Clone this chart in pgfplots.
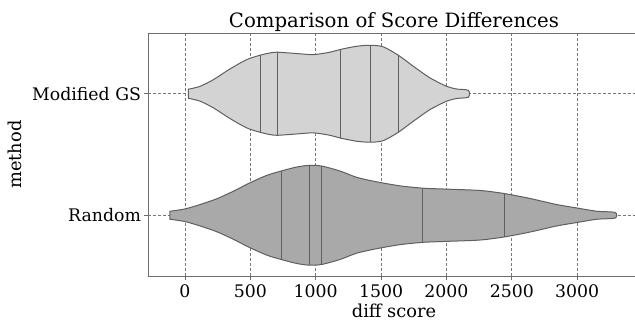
\documentclass[border=0pt]{standalone}
\usepackage{fontspec}
\setmainfont{DejaVu Serif}
\usepackage{pgfplots}
\pgfplotsset{compat=1.18}
\definecolor{lightv}{RGB}{211,211,211}
\definecolor{darkv}{RGB}{169,169,169}
\definecolor{edgec}{RGB}{95,95,95}
\definecolor{spinec}{RGB}{110,110,110}
\definecolor{gridc}{RGB}{120,120,120}
\begin{document}
\begin{tikzpicture}
\begin{axis}[
 at={(0,0)}, anchor=south west,
 scale only axis, width=507.6pt, height=243pt,
 xmin=-283, xmax=3600, ymin=-0.5, ymax=1.5,
 axis lines=left,
 xtick={0,500,1000,1500,2000,2500,3000},
 ytick={0,1}, yticklabels={Random, Modified GS},
 scaled x ticks=false,
 xticklabel style={/pgf/number format/1000 sep={}, yshift=-1.5pt},
 /pgf/number format/assume math mode=true,
 tick align=outside, tick pos=left, major tick length=3.5pt,
 tick style={spinec, line width=0.8pt},
 axis line style={spinec, line width=0.8pt, -},
 grid=major,
 major grid style={gridc, line width=0.8pt, dash pattern=on 3pt off 2pt},
 ticklabel style={font=\fontsize{17.3}{20}\selectfont, text=black},
 every axis title shift=0pt,
 title={Comparison of Score Differences},
 title style={font=\fontsize{19.7}{23}\selectfont, at={(axis description cs:0.5,1)}, anchor=base, xshift=-7.8pt, yshift=6pt},
 xlabel={diff score},
 xlabel style={font=\fontsize{17.8}{20}\selectfont, at={(axis description cs:0.5,-0.1728)}, anchor=base, xshift=-7.8pt},
 ylabel={method},
 ylabel style={font=\fontsize{17.8}{20}\selectfont, at={(axis description cs:0,0.5)}, anchor=base, yshift=126pt},
 clip=false,
]
\draw[spinec, line width=0.8pt] (rel axis cs:0,1) -- (rel axis cs:1,1);
% Modified GS violin (centre y = 1)
\addplot[draw=edgec, fill=lightv, line width=1pt, smooth, tension=0.45] coordinates {
(25,1.037) (115,1.061) (217,1.116) (344,1.204) (472,1.281) (574,1.317) (650,1.336) (706,1.342)
(855,1.331) (982,1.322) (1109,1.342) (1186,1.364) (1314,1.391) (1421,1.399) (1517,1.386)
(1632,1.317) (1747,1.226) (1875,1.130) (2002,1.061) (2079,1.039) (2168,1.028)
(2168,0.972) (2079,0.961) (2002,0.939) (1875,0.870) (1747,0.774) (1632,0.683) (1517,0.614)
(1421,0.601) (1314,0.609) (1186,0.636) (1109,0.658) (982,0.678) (855,0.669) (706,0.658)
(650,0.664) (574,0.683) (472,0.719) (344,0.796) (217,0.884) (115,0.939) (25,0.963)
} -- cycle;
% Random violin (centre y = 0)
\addplot[draw=edgec, fill=darkv, line width=1pt, smooth, tension=0.45] coordinates {
(-115,0.033) (0,0.052) (115,0.088) (242,0.135) (370,0.198) (497,0.267) (625,0.328) (735,0.364)
(855,0.397) (951,0.411) (1046,0.405) (1186,0.364) (1314,0.312) (1467,0.275) (1645,0.242)
(1819,0.223) (2002,0.215) (2257,0.204) (2441,0.179) (2640,0.138) (2844,0.088) (2997,0.060)
(3150,0.033) (3290,0.023)
(3290,-0.023) (3150,-0.033) (2997,-0.060) (2844,-0.088) (2640,-0.138) (2441,-0.179)
(2257,-0.204) (2002,-0.215) (1819,-0.223) (1645,-0.242) (1467,-0.275) (1314,-0.312)
(1186,-0.364) (1046,-0.405) (951,-0.411) (855,-0.397) (735,-0.364) (625,-0.328) (497,-0.267)
(370,-0.198) (242,-0.135) (115,-0.088) (0,-0.052) (-115,-0.033)
} -- cycle;
% sticks, Modified GS
\addplot[edgec, line width=0.9pt] coordinates {(574,0.683) (574,1.317)};
\addplot[edgec, line width=0.9pt] coordinates {(706,0.658) (706,1.342)};
\addplot[edgec, line width=0.9pt] coordinates {(1186,0.636) (1186,1.364)};
\addplot[edgec, line width=0.9pt] coordinates {(1421,0.601) (1421,1.399)};
\addplot[edgec, line width=0.9pt] coordinates {(1632,0.683) (1632,1.317)};
% sticks, Random
\addplot[edgec, line width=0.9pt] coordinates {(735,-0.364) (735,0.364)};
\addplot[edgec, line width=0.9pt] coordinates {(951,-0.411) (951,0.411)};
\addplot[edgec, line width=0.9pt] coordinates {(1046,-0.405) (1046,0.405)};
\addplot[edgec, line width=0.9pt] coordinates {(1819,-0.223) (1819,0.223)};
\addplot[edgec, line width=0.9pt] coordinates {(2441,-0.179) (2441,0.179)};
\end{axis}
\pgfresetboundingbox
\path[use as bounding box] (-148pt,-46pt) rectangle (487pt,276pt);
\end{tikzpicture}
\end{document}
